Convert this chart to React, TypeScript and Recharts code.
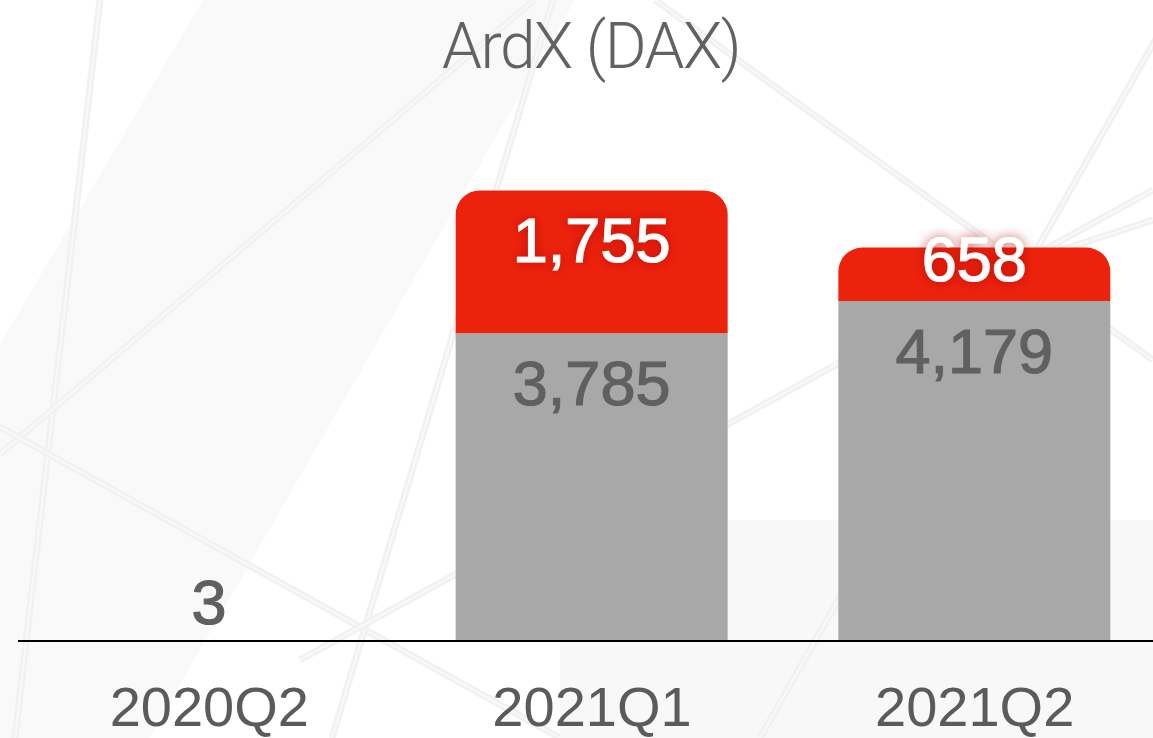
import React from 'react';
import { BarChart, Bar, XAxis, YAxis, LabelList } from 'recharts';

const quarters = ['2020Q2', '2021Q1', '2021Q2'];
const baseValues = [3, 3785, 4179];
const topValues: (number | null)[] = [null, 1755, 658];

const data = quarters.map((q, i) => ({ quarter: q, base: baseValues[i], top: topValues[i] }));

const fmt = (v: number) => v.toLocaleString('en-US');

const AxisTick = ({ x, y, payload }: any) => (
  <text
    x={x}
    y={y + 77}
    textAnchor="middle"
    fontSize={56}
    fill="#5b5b5b"
    fontFamily="'Liberation Sans', Arial, sans-serif"
  >
    {payload.value}
  </text>
);

const BaseLabel = ({ x, y, width, height, value }: any) => {
  if (value == null) return null;
  const cx = x + width / 2;
  // tiny bars get their number above the bar
  const by = height < 40 ? y - 17 : y + Math.min(72, height / 2 + 7);
  return (
    <text
      x={cx}
      y={by}
      textAnchor="middle"
      fontSize={63}
      fill="#606060"
      stroke="#606060"
      strokeWidth={1.2}
      fontFamily="'Liberation Sans', Arial, sans-serif"
    >
      {fmt(value)}
    </text>
  );
};

const TopLabel = ({ x, y, width, height, value }: any) => {
  if (value == null) return null;
  const cx = x + width / 2;
  const by = y + Math.min(72, height / 2 + 7);
  return (
    <text
      x={cx}
      y={by}
      textAnchor="middle"
      fontSize={63}
      fill="#ffffff"
      stroke="#ffffff"
      strokeWidth={1.2}
      filter="url(#redGlow)"
      fontFamily="'Liberation Sans', Arial, sans-serif"
    >
      {fmt(value)}
    </text>
  );
};

// faint decorative strokes of the slide background
const bgLines = [
  [100, 0, 15, 738],
  [534, 0, 0, 454],
  [0, 427, 560, 738],
  [553, 0, 332, 738],
  [300, 660, 1153, 190],
  [655, 0, 1153, 360],
  [1178, 0, 760, 738],
  [1000, 270, 1153, 220],
];

const Backdrop = () => (
  <svg width={1153} height={738} style={{ position: 'absolute', left: 0, top: 0 }}>
    <rect x={0} y={0} width={1153} height={738} fill="#ffffff" />
    <polygon points="203,0 575,0 149,738 0,738 0,344" fill="#f8f9f8" />
    <rect x={728} y={520} width={425} height={218} fill="#f7f8f7" />
    <rect x={560} y={641} width={200} height={97} fill="#f7f8f7" />
    {bgLines.map(([x1, y1, x2, y2], i) => (
      <g key={i}>
        <line x1={x1} y1={y1} x2={x2} y2={y2} stroke="#f1f1f1" strokeWidth={7} />
        <line x1={x1} y1={y1} x2={x2} y2={y2} stroke="#f9f9f9" strokeWidth={2} />
      </g>
    ))}
  </svg>
);

export default function App() {
  return (
    <div
      style={{
        position: 'fixed',
        left: 0,
        top: 0,
        width: 1153,
        height: 738,
        overflow: 'hidden',
        background: '#fff',
      }}
    >
      <Backdrop />
      <div
        style={{
          position: 'absolute',
          left: 591 - 300,
          top: 4,
          width: 600,
          textAlign: 'center',
          fontFamily: "Roboto, 'Liberation Sans', sans-serif",
          fontWeight: 300,
          fontSize: 64,
          letterSpacing: -1.5,
          color: '#626262',
          lineHeight: '86px',
        }}
      >
        ArdX (DAX)
      </div>
      <div style={{ position: 'absolute', left: 0, top: 0 }}>
        <BarChart
          width={1170}
          height={738}
          data={data}
          margin={{ top: 153, right: 4, bottom: 0, left: 18 }}
          barSize={272}
        >
          <defs>
            <filter id="redGlow" x="-30%" y="-50%" width="160%" height="200%">
              <feDropShadow dx={0} dy={0} stdDeviation={6} floodColor="#b01000" floodOpacity={0.7} />
            </filter>
          </defs>
          <XAxis
            dataKey="quarter"
            height={97}
            axisLine={{ stroke: '#000', strokeWidth: 2 }}
            tickLine={false}
            tick={<AxisTick />}
            interval={0}
          />
          <YAxis hide domain={[0, 6000]} />
          <Bar dataKey="base" stackId="a" fill="#a7a8a7" isAnimationActive={false}>
            <LabelList dataKey="base" content={<BaseLabel />} />
          </Bar>
          <Bar dataKey="top" stackId="a" fill="#ec220c" radius={[24, 24, 0, 0]} isAnimationActive={false}>
            <LabelList dataKey="top" content={<TopLabel />} />
          </Bar>
        </BarChart>
      </div>
    </div>
  );
}
